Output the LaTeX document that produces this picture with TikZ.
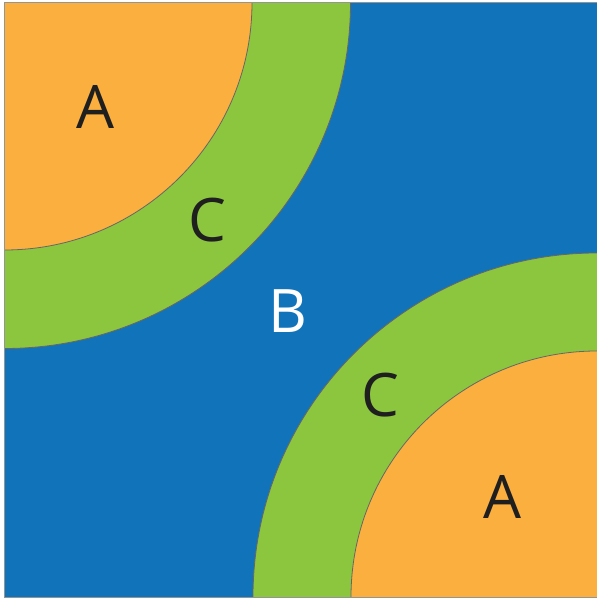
\documentclass[tikz,border=0pt]{standalone}
\usepackage{fontspec}
\setmainfont{Open Sans}
\definecolor{orA}{HTML}{FBAF3F}
\definecolor{grC}{HTML}{8CC63F}
\definecolor{blB}{HTML}{1174BB}
\definecolor{edge}{HTML}{666666}
\tikzset{lab/.style={font=\fontsize{60}{60}\selectfont, text=black!88, inner sep=0pt}}
\begin{document}
\begin{tikzpicture}[x=1pt,y=1pt]
\useasboundingbox (0,0) rectangle (597,598);
\begin{scope}
\clip (4.5,0) rectangle (597,595.5);
\fill[blB] (4.5,0) rectangle (597,595.5);
% top-left
\filldraw[fill=grC,draw=edge,line width=0.8pt] (4.5,595.5) circle (346);
\filldraw[fill=orA,draw=edge,line width=0.8pt] (4.5,595.5) circle (247.5);
% bottom-right
\filldraw[fill=grC,draw=edge,line width=0.8pt] (597,1) circle (344);
\filldraw[fill=orA,draw=edge,line width=0.8pt] (597,1) circle (246);
\end{scope}
\draw[edge!70,line width=1pt] (4.5,0) -- (4.5,595.5) -- (597,595.5);
\draw[edge!70,line width=1pt] (4.5,0.5) -- (597,0.5);
\node[lab] (a1) at (95,491) {A};
\node[lab] (c1) at (207,378) {C};
\node[lab,text=white] (b) at (288,287) {B};
\node[lab] (c2) at (380,203) {C};
\node[lab] (a2) at (502,101) {A};
\end{tikzpicture}
\end{document}
